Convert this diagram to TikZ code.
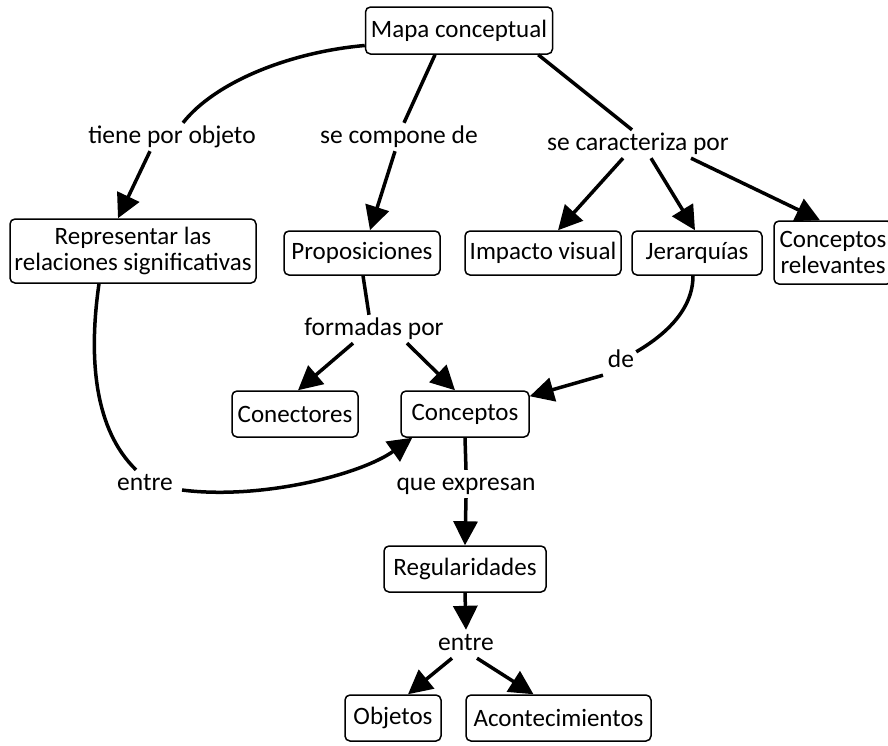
\documentclass[tikz,border=0pt]{standalone}
\usepackage{fontspec}
\setmainfont{Carlito}
\usetikzlibrary{arrows.meta}

\begin{document}
\begin{tikzpicture}
        [
            x=1pt, y=-1pt,
            concept/.style = {draw, shape=rectangle, rounded corners=5pt, minimum height=46pt, inner sep=2pt, line width=1.5pt, align=center, font=\fontsize{25}{26}\selectfont},
            phrase/.style = {shape=rectangle, inner sep=2pt, text height=18pt, text depth=6pt, font=\fontsize{25.5}{26}\selectfont},
            link/.style = {line width=3.5pt},
            arrow/.style = {line width=3.5pt, -{Triangle[length=24pt, width=24pt]}},
        ]
        \useasboundingbox (0,0) rectangle (888,745);

        % concepts
        \node[concept, minimum width=187pt, minimum height=47pt] (mapa) at (459,30.5) {Mapa conceptual};
        \node[concept, minimum width=246pt, minimum height=64pt] (repr) at (133,251) {Representar las\\relaciones significativas};
        \node[concept, minimum width=156pt, minimum height=44pt] (prop) at (362,253) {Proposiciones};
        \node[concept, minimum width=156pt, minimum height=44pt] (impacto) at (543,253) {Impacto visual};
        \node[concept, minimum width=130pt, minimum height=44pt] (jer) at (697,253) {Jerarquías};
        \node[concept, minimum width=118pt, minimum height=63pt] (relev) at (833,252.5) {Conceptos\\relevantes};
        \node[concept, minimum width=126pt] (conect) at (295,414) {Conectores};
        \node[concept, minimum width=128pt] (conc) at (465,414) {Conceptos};
        \node[concept, minimum width=162pt] (reg) at (465,569) {Regularidades};
        \node[concept, minimum width=96pt] (obj) at (393,718) {Objetos};
        \node[concept, minimum width=185pt] (acont) at (558.5,718) {Acontecimientos};

        % linking phrases
        \node[phrase] (tiene) at (172,137) {tiene por objeto};
        \node[phrase] (compone) at (399,137) {se compone de};
        \node[phrase] (carac) at (638,144) {se caracteriza por};
        \node[phrase] (formadas) at (374,329) {formadas por};
        \node[phrase] (de) at (621,361) {de};
        \node[phrase] (entre1) at (145,484) {entre};
        \node[phrase] (expresan) at (466,484) {que expresan};
        \node[phrase] (entre2) at (466,644) {entre};

        % connectors
        \draw[link] ([yshift=-15pt]mapa.west) .. controls (290,52) and (215,82) .. ([xshift=11pt]tiene.north);
        \draw[arrow] ([xshift=-22pt]tiene.south) -- ([xshift=-15pt]repr.north);
        \draw[link] ([xshift=-24pt]mapa.south) -- ([xshift=5pt]compone.north);
        \draw[arrow] ([xshift=-4pt]compone.south) -- ([xshift=8pt]prop.north);
        \draw[link] ([xshift=-15pt]mapa.south east) -- ([xshift=-6pt]carac.north);
        \draw[arrow] ([xshift=-15pt]carac.south) -- ([xshift=15pt]impacto.north);
        \draw[arrow] ([xshift=13pt]carac.south) -- ([xshift=-2pt]jer.north);
        \draw[arrow] ([xshift=53pt]carac.south) -- ([xshift=-13pt]relev.north);

        \draw[link] ([xshift=1pt]prop.south) -- ([xshift=-5pt]formadas.north);
        \draw[arrow] ([xshift=-21pt]formadas.south) -- ([xshift=3pt]conect.north);
        \draw[arrow] ([xshift=33pt]formadas.south) -- ([xshift=-10pt]conc.north);

        \draw[link] ([xshift=-4pt]jer.south) .. controls (693,310) and (665,335) .. ([yshift=-5pt]de.north east);
        \draw[arrow] ([xshift=-18pt]de.south) -- ([yshift=-6pt]conc.north east);

        \draw[link] ([xshift=-34pt]repr.south) .. controls (88,360) and (95,430) .. ([xshift=-9pt]entre1.north);
        \draw[arrow] ([xshift=7pt,yshift=-6pt]entre1.east) .. controls (260,500) and (360,475) .. ([xshift=12pt]conc.south west);

        \draw[link] (conc.south) -- (expresan.north);
        \draw[arrow] (expresan.south) -- (reg.north);
        \draw[arrow] (reg.south) -- (entre2.north);
        \draw[arrow] ([xshift=-14pt]entre2.south) -- ([xshift=15pt]obj.north);
        \draw[arrow] ([xshift=11pt]entre2.south) -- ([xshift=-25pt]acont.north);
\end{tikzpicture}
\end{document}
